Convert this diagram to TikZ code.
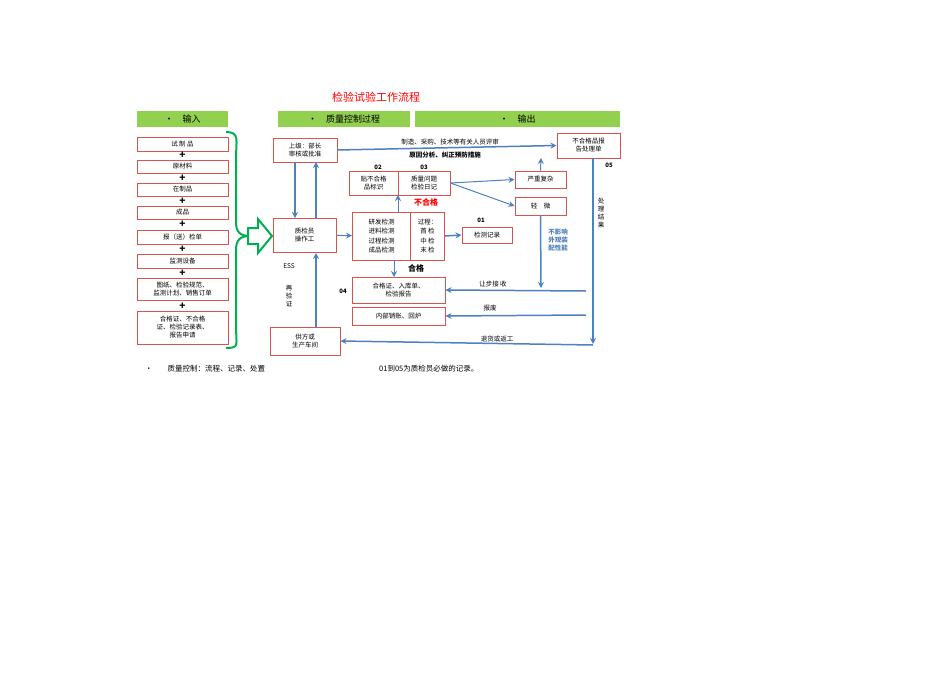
\documentclass[tikz,border=0pt]{standalone}
\usepackage{fontspec}
\setmainfont{Noto Sans CJK SC}
\usetikzlibrary{arrows.meta}
\definecolor{bx}{HTML}{D9534F}
\definecolor{ar}{HTML}{4F81BD}
\definecolor{hd}{HTML}{92D050}
\definecolor{gr}{HTML}{00B050}
\begin{document}
\begin{tikzpicture}[x=1pt,y=-1pt,
 box/.style={draw=bx,line width=1pt,fill=white,inner sep=0pt,align=center,font=\fontsize{6.5}{8}\selectfont},
 hb/.style={fill=hd,inner sep=0pt,font=\fontsize{9}{10}\selectfont},
 arr/.style={draw=ar,line width=1.5pt,-{Stealth[length=6pt,width=6pt]}},
 lb/.style={font=\fontsize{6.5}{8}\selectfont,inner sep=0pt},
 pl/.style={font=\bfseries\fontsize{10}{10}\selectfont,inner sep=0pt}]
\useasboundingbox (0,0) rectangle (950,672);
\node[text=red,font=\fontsize{11}{12}\selectfont] (title) at (376,97) {检验试验工作流程};
\node[hb,minimum width=91,minimum height=16] (h1) at (182.5,119) {•\quad 输入};
\node[hb,minimum width=132,minimum height=16] (h2) at (344,119) {•\quad 质量控制过程};
\node[hb,minimum width=205,minimum height=16] (h3) at (517.5,119) {•\quad 输出};
% left column
\foreach \n/\y/\h/\t in {a/144/14/试 制 品,b/166.5/13/原材料,c/189.5/13/在制品,d/212.5/13/成品,e/237/14/报（送）检单,f/261/14/监测设备,g/289/22/图纸、检验规范、\\监测计划、销售订单,h/327.5/33/合格证、不合格\\证、检验记录表、\\报告申请}
  \node[box,minimum width=91,minimum height=\h] (\n) at (182.5,\y) {\t};
\foreach \y/\m in {155.5/p1,178/p2,201/p3,224.5/p4,249/p5,273/p6,306/p7}
  \node[pl] (\m) at (182.5,\y) {+};
\draw[gr,line width=2pt] (226,132) .. controls (240,132) and (236,140) .. (236,160) -- (236,222) .. controls (236,232) and (240,236) .. (250,236) .. controls (240,236) and (236,240) .. (236,250) -- (236,325) .. controls (236,345) and (240,348) .. (226,348);
\draw[gr,line width=2pt,fill=white] (248,228) -- (258,228) -- (258,219) -- (272,236) -- (258,253) -- (258,244) -- (248,244) -- cycle;
% middle
\node[box,minimum width=64,minimum height=24] (sj) at (305,150) {上级：部长\\审核或批准};
\node[box,minimum width=63,minimum height=34] (zj) at (304.5,235) {质检员\\操作工};
\node[box,minimum width=70,minimum height=28] (gf) at (305,341) {供方或\\生产车间};
\draw[arr] (295,162) -- (295,218);
\draw[arr] (316,218) -- (316,162);
\draw[arr] (316,327) -- (316,253);
\node[lb] (ess) at (289,266) {ESS};
\node[lb,align=center] (zy) at (289,296) {再\\验\\证};
\node[box,minimum width=58,minimum height=48,anchor=west,font=\fontsize{6.5}{9.5}\selectfont] (yf) at (352,236) {研发检测\\进料检测\\过程检测\\成品检测};
\node[box,minimum width=34,minimum height=48,anchor=west,font=\fontsize{6.5}{9.5}\selectfont] (gc) at (410,236) {过程：\\首 检\\中 检\\末 检};
\draw[arr,line width=1pt] (zj) -- (yf);
\node[box,minimum width=49,minimum height=24] (tb) at (373.5,183) {贴不合格\\品标识};
\node[box,minimum width=52,minimum height=24] (zl) at (424,183) {质量问题\\检验日记};
\node[lb,font=\bfseries\fontsize{6}{7}\selectfont] (n02) at (378,167) {02};
\node[lb,font=\bfseries\fontsize{6}{7}\selectfont] (n03) at (424,167) {03};
\draw[arr,line width=1pt] (398,212) -- (398,195);
\node[lb,text=red,font=\bfseries\fontsize{8}{9}\selectfont] (bhg) at (426,202) {不合格};
\node[lb,font=\bfseries\fontsize{6}{7}\selectfont] (n01) at (481,220) {01};
\node[box,minimum width=50,minimum height=16] (jc) at (487,235) {检测记录};
\draw[arr] (gc.east) -- (jc.west);
\node[lb,font=\bfseries\fontsize{8}{9}\selectfont] (hg) at (416,268) {合格};
\node[box,minimum width=93,minimum height=26] (hgz) at (398.5,290) {合格证、入库单、\\检验报告};
\node[lb,font=\bfseries\fontsize{6}{7}\selectfont] (n04) at (343,291) {04};
\draw[arr,line width=1pt] (394,260) -- (394,277);
\node[box,minimum width=93,minimum height=18] (nb) at (398.5,316) {内部销账、回炉};
% right
\node[box,minimum width=51,minimum height=17] (yz) at (540.5,179.5) {严重复杂};
\node[box,minimum width=51,minimum height=18] (qw) at (540.5,206) {轻\quad 微};
\draw[arr,line width=1pt] (zl.east) -- (yz.west);
\draw[arr,line width=1pt] (zl.east) -- (qw.west);
\node[box,minimum width=63,minimum height=25] (bhgp) at (588.5,145.5) {不合格品报\\告处理单};
\node[lb,font=\bfseries\fontsize{6}{7}\selectfont] (n05) at (609,165) {05};
\draw[arr,line width=1pt] (yz.north) -- (541,158);
\draw[arr] (sj.east) -- (bhgp.west);
\node[lb] (zz) at (450,142) {制造、采购、技术等有关人员评审};
\node[lb,font=\bfseries\fontsize{6.5}{8}\selectfont] (yy) at (445,155) {原因分析、纠正预防措施};
\node[lb,align=center] (cl) at (601,213) {处\\理\\结\\果};
\coordinate (c1) at (593,158);
\coordinate (c2) at (593,344);
\draw[arr] (c1) -- (c2);
\coordinate (c3) at (586,291);
\coordinate (c4) at (586,315);
\coordinate (c5) at (593,345);
\draw[arr] (c3) -- (hgz.east);
\draw[arr] (c4) -- (nb.east);
\draw[arr] (c5) -- (gf.east);
\node[lb] (rb) at (493,284) {让步接 收};
\node[lb] (bf) at (490,308) {报废};
\node[lb] (th) at (497,339) {退货或返工};
\coordinate (c6) at (541,288);
\draw[arr] (qw.south) -- (c6);
\node[lb,text=ar,align=center,font=\bfseries\fontsize{6.5}{8}\selectfont] (by) at (558,240) {不影响\\外观装\\配性能};
% bottom
\node[lb,anchor=west,font=\fontsize{7.5}{9}\selectfont] (b1) at (145,369) {•\qquad 质量控制：流程、记录、处置};
\node[lb,anchor=west,font=\fontsize{7.5}{9}\selectfont] (b2) at (379,369) {01到05为质检员必做的记录。};
\end{tikzpicture}
\end{document}
